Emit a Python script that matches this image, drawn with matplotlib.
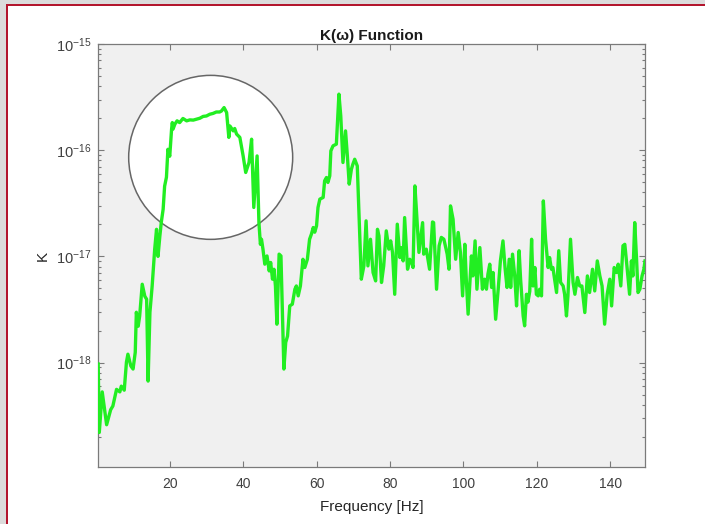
import matplotlib
matplotlib.use("Agg")
import matplotlib.pyplot as plt
from matplotlib.patches import Ellipse, Rectangle
from matplotlib.ticker import LogLocator, FixedLocator
import numpy as np

plt.rcParams["font.family"] = ["Liberation Sans", "DejaVu Sans"]
plt.rcParams["mathtext.fontset"] = "custom"
plt.rcParams["mathtext.rm"] = "Liberation Sans"
plt.rcParams["mathtext.it"] = "Liberation Sans:italic"
plt.rcParams["mathtext.bf"] = "Liberation Sans:bold"

# frequency axis [Hz]
freq = [
    0.5, 0.8, 1.6, 2.8, 3.9, 4.5, 5.5, 6.4, 6.8, 7.6, 8.2, 8.6, 9.4, 10.0,
    10.6, 10.9, 11.4, 11.8, 12.5, 13.2, 13.7, 14.1, 14.6, 15.2, 15.9, 16.4,
    16.8, 17.3, 17.7, 18.2, 18.6, 19.1, 19.5, 20.0, 20.5, 20.7, 20.9, 21.4,
    22.0, 22.7, 23.6, 24.6, 25.5, 26.4, 27.3, 28.2, 29.1, 30.0, 30.9, 31.8,
    32.7, 33.6, 34.1, 34.8, 35.5, 36.1, 36.4, 37.3, 37.7, 38.2, 39.1, 40.0,
    40.7, 41.6, 42.3, 42.9, 43.8, 44.3, 44.7, 45.0, 45.4, 45.9, 46.5, 47.1,
    47.5, 48.0, 48.4, 48.8, 49.2, 49.8, 50.3, 51.1, 51.6, 52.1, 52.7, 53.4,
    54.1, 54.5, 55.0, 55.6, 56.3, 56.8, 57.5, 58.1, 58.6, 59.1, 59.5, 60.0,
    60.4, 60.9, 61.8, 62.2, 62.7, 63.1, 63.6, 63.9, 64.5, 65.4, 66.1, 66.6,
    67.2, 67.9, 68.4, 68.9, 69.5, 69.9, 70.4, 71.1, 72.2, 72.9, 73.5, 74.0,
    74.7, 75.4, 76.1, 76.6, 77.0, 77.7, 78.3, 79.0, 79.7, 80.2, 80.7, 81.3,
    82.0, 82.7, 83.1, 83.6, 84.0, 84.8, 85.4, 85.9, 86.3, 86.8, 87.2, 87.9,
    88.9, 89.2, 89.9, 90.8, 91.6, 91.9, 92.7, 93.4, 94.0, 94.7, 95.6, 96.1,
    96.5, 97.2, 97.9, 98.6, 99.2, 99.8, 100.4, 100.8, 101.3, 102.2, 102.6,
    103.2, 103.7, 104.5, 105.2, 105.8, 106.3, 106.7, 107.2, 107.7, 108.1,
    108.8, 109.5, 110.1, 110.8, 111.4, 111.9, 112.5, 112.9, 113.4, 114.0,
    114.5, 115.2, 115.6, 116.3, 116.7, 117.2, 117.6, 118.1, 118.6, 119.0,
    119.5, 119.9, 120.4, 120.8, 121.3, 121.8, 122.4, 123.1, 123.5, 124.0,
    124.4, 125.4, 126.0, 126.5, 127.2, 127.6, 128.1, 128.5, 129.2, 129.9,
    130.4, 131.1, 131.7, 132.3, 133.1, 133.8, 134.4, 135.2, 135.8, 136.5,
    137.2, 137.8, 138.5, 139.2, 139.9, 140.4, 141.1, 141.7, 142.2, 142.9,
    143.5, 144.0, 144.4, 145.3, 145.8, 146.2, 146.7, 147.2, 147.6, 148.1,
    148.7, 149.2, 149.5,
]

# K(w) in units of 1e-17
k_scaled = [
    0.097, 0.022, 0.053, 0.026, 0.036, 0.039, 0.056, 0.053, 0.060, 0.055,
    0.101, 0.120, 0.093, 0.087, 0.125, 0.298, 0.220, 0.274, 0.547, 0.422,
    0.395, 0.067, 0.298, 0.523, 1.17, 1.80, 1.00, 1.55, 2.10, 2.78, 4.58,
    5.57, 10.2, 8.78, 15.8, 18.2, 15.8, 17.6, 18.9, 18.2, 19.9, 18.9, 19.3,
    19.2, 19.6, 20.0, 20.8, 21.0, 21.8, 22.2, 22.9, 22.9, 23.4, 25.2, 22.6,
    13.2, 16.9, 15.2, 16.0, 14.2, 13.2, 8.83, 6.17, 7.66, 12.7, 2.89, 8.83,
    2.08, 1.30, 1.45, 1.17, 0.845, 1.01, 0.73, 0.877, 0.61, 0.757, 0.527,
    0.23, 1.05, 1.01, 0.087, 0.155, 0.178, 0.342, 0.355, 0.491, 0.527, 0.425,
    0.527, 0.94, 0.786, 0.94, 1.45, 1.62, 1.87, 1.69, 1.94, 2.89, 3.46, 3.59,
    5.14, 5.53, 4.97, 5.73, 9.85, 11.0, 11.4, 33.7, 21.0, 7.66, 15.2, 8.83,
    4.79, 6.62, 7.38, 8.22, 7.11, 0.61, 0.814, 2.16, 0.814, 1.45, 0.705,
    0.588, 1.80, 1.56, 0.568, 0.814, 1.74, 1.17, 1.40, 1.09, 0.44, 2.01,
    0.976, 1.21, 0.907, 2.32, 0.757, 0.94, 0.88, 0.786, 4.61, 2.78, 1.09,
    2.08, 1.05, 1.17, 0.757, 2.11, 2.08, 0.491, 1.26, 1.51, 1.45, 1.05,
    0.757, 2.99, 2.24, 0.94, 1.68, 1.09, 0.425, 1.30, 0.61, 0.286, 1.01,
    0.655, 1.40, 0.491, 1.21, 0.491, 0.61, 0.491, 0.68, 0.845, 0.51, 0.705,
    0.256, 0.491, 0.907, 1.40, 0.757, 0.51, 0.94, 0.51, 1.05, 0.655, 0.342,
    1.13, 0.61, 0.275, 0.222, 0.44, 0.371, 0.47, 1.45, 0.527, 0.786, 0.44,
    0.425, 0.491, 0.425, 3.33, 1.45, 0.786, 0.976, 0.757, 0.786, 0.457,
    1.13, 0.568, 0.527, 0.44, 0.275, 0.425, 1.45, 0.568, 0.44, 0.633, 0.527,
    0.527, 0.296, 0.655, 0.457, 0.757, 0.473, 0.907, 0.655, 0.527, 0.23,
    0.44, 0.61, 0.342, 0.786, 0.705, 0.845, 0.527, 1.26, 1.30, 0.94, 0.44,
    0.907, 0.655, 2.08, 0.94, 0.457, 0.491, 0.655, 0.757, 0.907,
]

x_ticks = [20, 40, 60, 80, 100, 120, 140]
y_ticks = [1e-18, 1e-17, 1e-16, 1e-15]
y_tick_labels = [r"$10^{-18}$", r"$10^{-17}$", r"$10^{-16}$", r"$10^{-15}$"]

K = np.array(k_scaled) * 1e-17

fig = plt.figure(figsize=(7.05, 5.24), dpi=100)
fig.patch.set_facecolor("white")

# window frame around the figure
fig.patches.append(Rectangle((0, 0), 6 / 705, 1, transform=fig.transFigure,
                             facecolor="#dcdcdc", edgecolor="none", zorder=0))
fig.patches.append(Rectangle((0, 1 - 4 / 524), 1, 4 / 524, transform=fig.transFigure,
                             facecolor="#dcdcdc", edgecolor="none", zorder=0))
fig.patches.append(Rectangle((6 / 705, 0), 2 / 705, 1 - 4 / 524, transform=fig.transFigure,
                             facecolor="#b3162e", edgecolor="none", zorder=1))
fig.patches.append(Rectangle((6 / 705, 1 - 6 / 524), 1, 2 / 524, transform=fig.transFigure,
                             facecolor="#b3162e", edgecolor="none", zorder=1))

ax = fig.add_axes([98 / 705, 57 / 524, 547 / 705, 423 / 524])
ax.set_facecolor("#f0f0f0")

# highlight circle behind the band region
circ = Ellipse((0.206, 0.732), 0.2998, 0.3877, transform=ax.transAxes,
               facecolor="white", edgecolor="#666666", lw=1.1, zorder=1.5)
ax.add_patch(circ)

ax.plot(freq, K, color="#22ee22", lw=2.4, zorder=3)

ax.set_yscale("log")
ax.set_xlim(0.45, 149.5)
ax.set_ylim(1.04e-19, 1e-15)

ax.xaxis.set_major_locator(FixedLocator(x_ticks))
ax.set_yticks(y_ticks)
ax.set_yticklabels(y_tick_labels)
ax.yaxis.set_minor_locator(LogLocator(base=10, subs=np.arange(2, 10), numticks=20))
ax.yaxis.set_minor_formatter(plt.NullFormatter())

for s in ax.spines.values():
    s.set_color("#7a7a7a")
    s.set_linewidth(0.9)

ax.tick_params(which="both", direction="in", top=True, right=True,
               color="#7a7a7a", width=0.8)
ax.tick_params(which="major", length=4.5)
ax.tick_params(which="minor", length=2.5)
ax.tick_params(axis="x", labelsize=10, labelcolor="#404040", pad=7)
ax.tick_params(axis="y", labelsize=10.5, labelcolor="#404040", pad=5)

ax.set_xlabel("Frequency [Hz]", fontsize=11, color="#262626", labelpad=7)
ax.set_ylabel("K", fontsize=11, color="#262626", labelpad=4)
ax.set_title("K(ω) Function", fontsize=11, fontweight="bold", color="#1a1a1a", pad=3)

fig.savefig("out.png", dpi=100)
